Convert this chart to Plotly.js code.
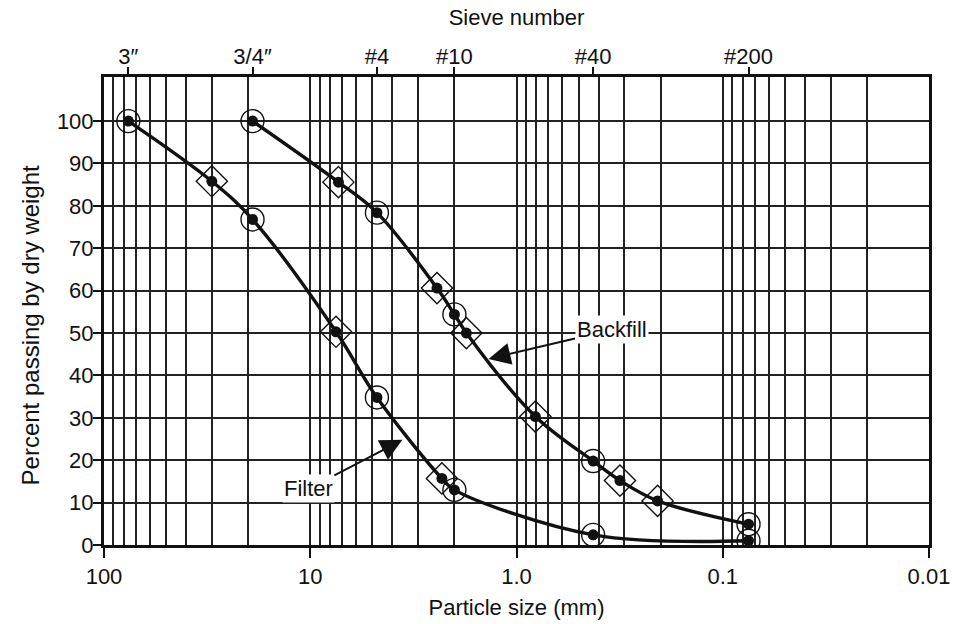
<!DOCTYPE html>
<html>
<head>
<meta charset="utf-8">
<script src="https://cdn.plot.ly/plotly-3.0.1.min.js"></script>
<style>
  html, body { margin: 0; padding: 0; background: #fff; }
  #chart { width: 956px; height: 624px; }
</style>
</head>
<body>
<div id="chart"></div>
<script>
// ---- data ----
// Filter gradation
const filterSize = [76.2, 30, 19.05, 7.5, 4.75, 2.3, 2.0, 0.425, 0.075];
const filterPct  = [100, 85.8, 76.8, 50.3, 34.8, 15.7, 13.0, 2.4, 1.0];
const filterPointType = ['std', 'other', 'std', 'other', 'std', 'other', 'std', 'std', 'std'];

// Backfill gradation
const backfillSize = [19.05, 7.3, 4.75, 2.43, 2.0, 1.75, 0.81, 0.425, 0.315, 0.207, 0.075];
const backfillPct  = [100, 85.6, 78.4, 60.6, 54.4, 50.0, 30.3, 19.8, 15.2, 10.4, 4.9];
const backfillPointType = ['std', 'other', 'std', 'other', 'std', 'other', 'other', 'std', 'other', 'other', 'std'];

// Axis ticks
const sizeTickVals = [100, 10, 1, 0.1, 0.01];
const sizeTickText = ['100', '10', '1.0', '0.1', '0.01'];
const sieveSizes = [76.2, 19.05, 4.75, 2.0, 0.425, 0.075];
const sieveLabels = ['3\u2033', '3/4\u2033', '#4', '#10', '#40', '#200'];
const pctTickVals = [0, 10, 20, 30, 40, 50, 60, 70, 80, 90, 100];
const pctTickText = ['0', '10', '20', '30', '40', '50', '60', '70', '80', '90', '100'];

// minor log gridlines (2..9 in each decade)
const minorVals = [];
for (let d = -2; d < 2; d++) {
  for (let m = 2; m <= 9; m++) minorVals.push(m * Math.pow(10, d));
}

function pick(xs, ys, types, t) {
  const px = [], py = [];
  for (let i = 0; i < xs.length; i++) if (types[i] === t) { px.push(xs[i]); py.push(ys[i]); }
  return { x: px, y: py };
}

const font = 'Liberation Sans, Arial, Helvetica, sans-serif';
const black = '#111';
const gridCol = '#222';

const traces = [];
function addSeries(xs, ys, types) {
  traces.push({
    x: xs, y: ys, mode: 'lines', type: 'scatter',
    line: { shape: 'spline', smoothing: 1, color: black, width: 3.4 },
    hoverinfo: 'skip', showlegend: false
  });
  const c = pick(xs, ys, types, 'std');
  traces.push({
    x: c.x, y: c.y, mode: 'markers', type: 'scatter',
    marker: { symbol: 'circle-open', size: 23, color: black, line: { width: 1.4, color: black } },
    hoverinfo: 'skip', showlegend: false
  });
  const d = pick(xs, ys, types, 'other');
  traces.push({
    x: d.x, y: d.y, mode: 'markers', type: 'scatter',
    marker: { symbol: 'diamond-open', size: 24, color: black, line: { width: 1.4, color: black } },
    hoverinfo: 'skip', showlegend: false
  });
  traces.push({
    x: xs, y: ys, mode: 'markers', type: 'scatter',
    marker: { symbol: 'circle', size: 11, color: black },
    hoverinfo: 'skip', showlegend: false
  });
}
addSeries(filterSize, filterPct, filterPointType);
addSeries(backfillSize, backfillPct, backfillPointType);

// invisible trace to activate top axis
traces.push({
  x: sieveSizes, y: sieveSizes.map(() => null), xaxis: 'x2', mode: 'markers',
  type: 'scatter', hoverinfo: 'skip', showlegend: false
});

const fs = 22;
const layout = {
  width: 956, height: 624,
  margin: { l: 104, r: 27, t: 77, b: 79 },
  paper_bgcolor: '#fff', plot_bgcolor: '#fff',
  font: { family: font, size: fs, color: black },
  xaxis: {
    type: 'log', range: [2, -2], autorange: false,
    tickmode: 'array', tickvals: sizeTickVals, ticktext: sizeTickText,
    ticks: 'outside', ticklen: 10, tickwidth: 2, tickcolor: black,
    showgrid: true, gridcolor: gridCol, gridwidth: 2,
    minor: { tickmode: 'array', tickvals: minorVals, showgrid: true, gridcolor: gridCol, gridwidth: 2, ticks: '' },
    showline: true, linecolor: black, linewidth: 3, mirror: true,
    zeroline: false,
    tickfont: { size: fs, family: font, color: black },
    title: { text: 'Particle size (mm)', font: { size: fs, family: font, color: black }, standoff: 12 }
  },
  xaxis2: {
    type: 'log', range: [2, -2], autorange: false,
    overlaying: 'x', side: 'top',
    tickmode: 'array', tickvals: sieveSizes, ticktext: sieveLabels,
    ticks: 'outside', ticklen: 9, tickwidth: 2, tickcolor: black,
    ticklabelstandoff: -6,
    showgrid: false, showline: false, zeroline: false,
    tickfont: { size: fs, family: font, color: black },
    title: { text: 'Sieve number', font: { size: fs, family: font, color: black }, standoff: 12 }
  },
  yaxis: {
    range: [0, 110.4], autorange: false,
    tickmode: 'array', tickvals: pctTickVals, ticktext: pctTickText,
    ticks: 'outside', ticklen: 8, tickwidth: 2, tickcolor: black,
    ticklabelstandoff: -5,
    showgrid: true, gridcolor: gridCol, gridwidth: 2,
    showline: true, linecolor: black, linewidth: 3, mirror: true,
    zeroline: false,
    tickfont: { size: fs, family: font, color: black }
  },
  annotations: [
    {
      x: -0.108, y: 0.47, xref: 'paper', yref: 'paper',
      text: 'Percent passing by dry weight', textangle: -90, showarrow: false,
      font: { size: 24, family: font, color: black }
    },
    {
      x: Math.log10(1.367), y: 43.9, xref: 'x', yref: 'y',
      text: 'Backfill', showarrow: true, ax: 123, ay: -29,
      arrowhead: 2, arrowsize: 2.2, arrowwidth: 2, arrowcolor: black,
      bgcolor: '#fff', borderpad: 1,
      font: { size: fs, family: font, color: black }
    },
    {
      x: Math.log10(3.575), y: 24.8, xref: 'x', yref: 'y',
      text: 'Filter', showarrow: true, ax: -94, ay: 49,
      arrowhead: 2, arrowsize: 2.2, arrowwidth: 2, arrowcolor: black,
      bgcolor: '#fff', borderpad: 1,
      font: { size: fs, family: font, color: black }
    }
  ]
};

Plotly.newPlot('chart', traces, layout, { displayModeBar: false, staticPlot: true });
</script>
</body>
</html>
